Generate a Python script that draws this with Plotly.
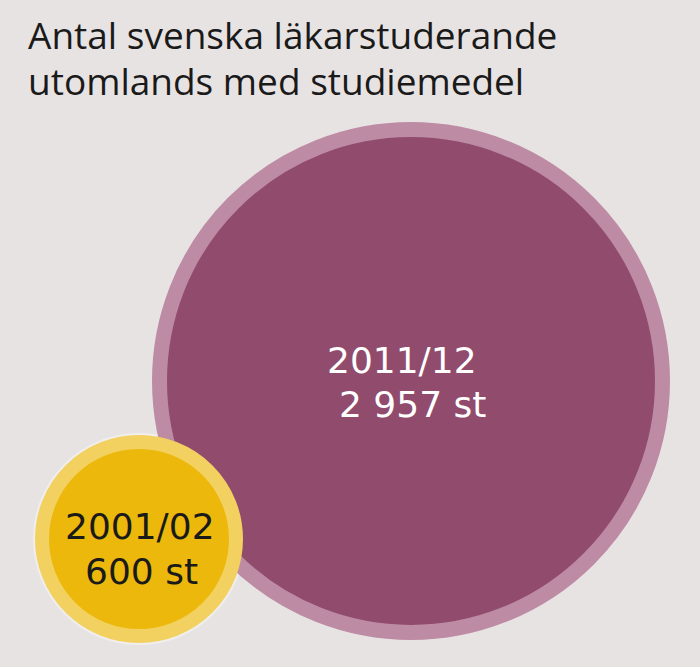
import plotly.graph_objects as go

# Data
periods = ["2011/12", "2001/02"]
students = [2957, 600]
title_lines = ["Antal svenska läkarstuderande", "utomlands med studiemedel"]

# Layout / style (pixel positions in a 700x667 canvas)
W, H = 700, 667
centers_x = [411, 139]
centers_y = [381, 539]
diameters = [503, 194]
ring_widths = [15, 14]
fills = ["#914b6d", "#ecb80c"]
rings = ["#bd8ba4", "#f3d160"]
text_colors = ["#ffffff", "#1a1a1a"]
line1_shift = [(-9, 21), (1, 13)]   # (x, y) pixel shifts of the period label
line2_shift = [(1, -23), (2, -32)]  # (x, y) pixel shifts of the count label
title_baselines = [51, 97]
bg = "#e8e3e3"
TITLE_FONT = "Open Sans"
LABEL_FONT = "DejaVu Sans"
LABEL_SIZE = 36


def fmt(n):
    return f"{n:,}".replace(",", " ") + " st"


fig = go.Figure()

# faint halo around small circle
fig.add_trace(go.Scatter(
    x=[centers_x[1]], y=[centers_y[1]], mode="markers",
    marker=dict(size=diameters[1] + ring_widths[1] + 4, color="#f1eeee",
                line=dict(width=0)),
    hoverinfo="skip", showlegend=False))

for i in range(len(periods)):
    fig.add_trace(go.Scatter(
        x=[centers_x[i]], y=[centers_y[i]],
        mode="markers",
        marker=dict(size=diameters[i], color=fills[i],
                    line=dict(width=ring_widths[i], color=rings[i]), opacity=1),
        hoverinfo="skip", showlegend=False))
    fig.add_annotation(
        x=centers_x[i], y=centers_y[i], xref="x", yref="y",
        text=periods[i], showarrow=False,
        xshift=line1_shift[i][0], yshift=line1_shift[i][1],
        font=dict(family=LABEL_FONT, size=LABEL_SIZE, color=text_colors[i]))
    fig.add_annotation(
        x=centers_x[i], y=centers_y[i], xref="x", yref="y",
        text=fmt(students[i]), showarrow=False,
        xshift=line2_shift[i][0], yshift=line2_shift[i][1],
        font=dict(family=LABEL_FONT, size=LABEL_SIZE, color=text_colors[i]))

for line, base in zip(title_lines, title_baselines):
    fig.add_annotation(
        x=26, y=base + 11, xref="x", yref="y", xanchor="left", yanchor="bottom",
        text=line, showarrow=False, align="left",
        font=dict(family=TITLE_FONT, size=37, color="#1a1a1a"))

fig.update_layout(
    width=W, height=H, margin=dict(l=0, r=0, t=0, b=0),
    paper_bgcolor=bg, plot_bgcolor=bg,
    xaxis=dict(range=[0, W], visible=False, fixedrange=True),
    yaxis=dict(range=[H, 0], visible=False, fixedrange=True),
)

fig.write_html("out.html", config={"displayModeBar": False},
               post_script="document.body.style.margin='0';document.body.style.background='%s';" % bg)
